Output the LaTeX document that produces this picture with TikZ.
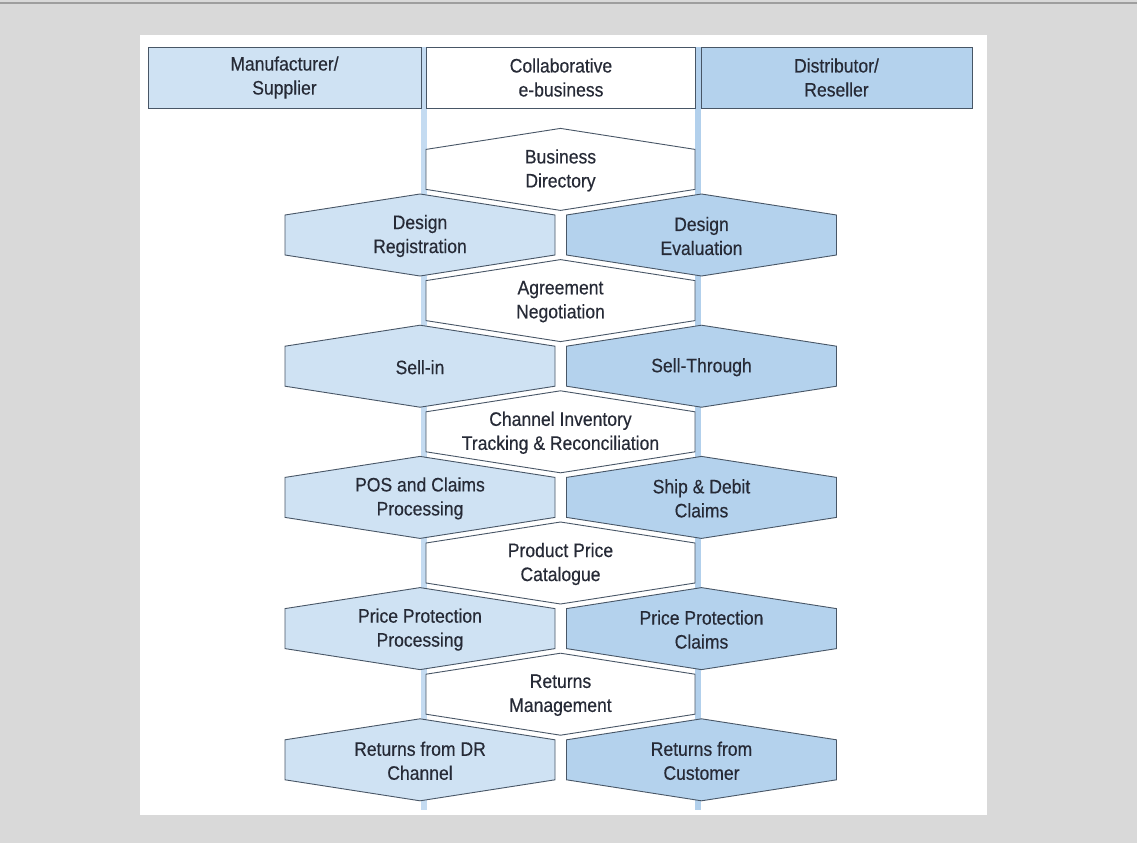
\documentclass[tikz,border=0pt]{standalone}
\usepackage{fontspec}
\setmainfont{Liberation Sans}[FakeStretch=0.9,FakeBold=0.4]
\definecolor{bggray}{RGB}{217,217,217}
\definecolor{topline}{RGB}{158,158,158}
\definecolor{lblue}{RGB}{207,226,243}
\definecolor{dblue}{RGB}{180,210,237}
\definecolor{barL}{RGB}{196,219,241}
\definecolor{barR}{RGB}{178,208,236}
\definecolor{edge}{RGB}{72,86,102}
\definecolor{txtc}{RGB}{38,42,54}
\tikzset{
  hexline/.style={draw=edge, line width=0.9pt},
  txt/.style={text=txtc, align=center, font=\fontsize{19.5}{24}\selectfont, inner sep=0pt},
  hdr/.style={draw=edge, line width=0.9pt, text=txtc, align=center,
    font=\fontsize{19.5}{24}\selectfont, minimum height=61pt, inner sep=0pt},
}
% #1 cx, #2 cy, #3 half width, #4 fill, #5 name, #6 text
\newcommand\myhex[6]{%
  \filldraw[hexline, fill=#4] (#1-#3,#2-20) -- (#1,#2-41) -- (#1+#3,#2-20)
     -- (#1+#3,#2+20) -- (#1,#2+41) -- (#1-#3,#2+20) -- cycle;
  \node[txt] (#5) at (#1,#2+1) {#6};}
\begin{document}
\begin{tikzpicture}[x=1pt,y=-1pt]
\useasboundingbox (0,0) rectangle (1137,843);
\fill[bggray] (0,0) rectangle (1137,843);
\fill[topline] (0,2) rectangle (1137,4);
\fill[white] (140,35) rectangle (987,815);
% vertical bars
\fill[barL] (420.5,47) rectangle (426.5,810);
\fill[barR] (695,47) rectangle (701,810);
% header
\node[hdr, fill=lblue, minimum width=273pt] (mfr) at (284.5,77.5) {Manufacturer/\\Supplier};
\node[hdr, fill=white, minimum width=269pt] (collab) at (561,77.5) {Collaborative\\e-business};
\node[hdr, fill=dblue, minimum width=271pt] (dist) at (836.5,77.5) {Distributor/\\Reseller};
% center column
\myhex{560.5}{169.4}{134.5}{white}{bd}{Business\\Directory}
\myhex{560.5}{300.6}{134.5}{white}{an}{Agreement\\Negotiation}
\myhex{560.5}{431.8}{134.5}{white}{ci}{Channel Inventory\\Tracking \& Reconciliation}
\myhex{560.5}{563}{134.5}{white}{pp}{Product Price\\Catalogue}
\myhex{560.5}{694.2}{134.5}{white}{rm}{Returns\\Management}
% left column
\myhex{420}{235}{135}{lblue}{dr}{Design\\Registration}
\myhex{420}{366.2}{135}{lblue}{si}{Sell-in}
\myhex{420}{497.4}{135}{lblue}{pos}{POS and Claims\\Processing}
\myhex{420}{628.6}{135}{lblue}{ppp}{Price Protection\\Processing}
\myhex{420}{759.8}{135}{lblue}{rdr}{Returns from DR\\Channel}
% right column
\myhex{701.5}{235}{135}{dblue}{de}{Design\\Evaluation}
\myhex{701.5}{366.2}{135}{dblue}{st}{Sell-Through}
\myhex{701.5}{497.4}{135}{dblue}{sd}{Ship \& Debit\\Claims}
\myhex{701.5}{628.6}{135}{dblue}{ppc}{Price Protection\\Claims}
\myhex{701.5}{759.8}{135}{dblue}{rc}{Returns from\\Customer}
\end{tikzpicture}
\end{document}
